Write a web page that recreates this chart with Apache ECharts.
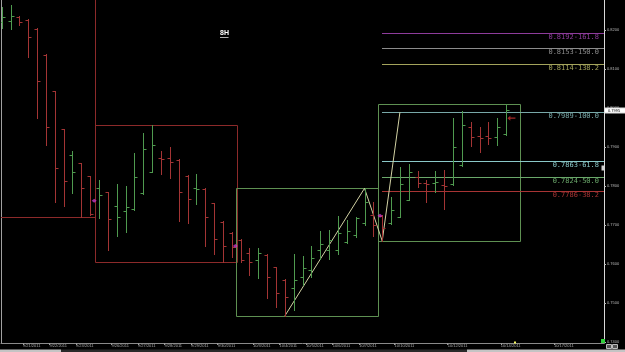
<!DOCTYPE html>
<html><head><meta charset="utf-8">
<script src="https://cdn.jsdelivr.net/npm/echarts@6/dist/echarts.min.js"></script>
<style>html,body{margin:0;padding:0;background:#000}#c{width:625px;height:352px}</style>
</head><body><div id="c"></div>
<script>
// ---- 8H OHLC bars ----
const opens = [0.8221,0.8224,0.8233,0.8226,0.8203,0.8136,0.8044,0.7946,0.7879,0.7858,
0.7826,0.7794,0.7784,0.7749,0.7736,0.7740,0.7781,0.7837,0.7871,0.7871,
0.7867,0.7826,0.7794,0.7792,0.7756,0.7708,0.7680,0.7662,0.7627,0.7610,
0.7623,0.7592,0.7559,0.7538,0.7567,0.7585,0.7636,0.7636,0.7636,0.7657,
0.7674,0.7704,0.7726,0.7723,0.7704,0.7721,0.7764,0.7824,0.7807,0.7807,
0.7803,0.7804,0.7854,0.7951,0.7927,0.7928,0.7926,0.7933];
const highs = [0.8260,0.8264,0.8236,0.8228,0.8204,0.8138,0.8044,0.7946,0.7891,0.7860,
0.7826,0.7815,0.7785,0.7805,0.7800,0.7884,0.7935,0.7956,0.7891,0.7899,
0.7868,0.7827,0.7831,0.7794,0.7757,0.7709,0.7681,0.7663,0.7640,0.7640,
0.7626,0.7593,0.7561,0.7626,0.7621,0.7646,0.7685,0.7687,0.7723,0.7713,
0.7721,0.7794,0.7759,0.7726,0.7773,0.7849,0.7856,0.7838,0.7815,0.7838,
0.7841,0.7975,0.7992,0.7963,0.7951,0.7965,0.7974,0.8010];
const lows = [0.8204,0.8202,0.8213,0.8131,0.7974,0.7905,0.7759,0.7749,0.7783,0.7720,
0.7726,0.7717,0.7636,0.7672,0.7683,0.7739,0.7780,0.7836,0.7831,0.7820,
0.7711,0.7704,0.7754,0.7646,0.7626,0.7604,0.7617,0.7606,0.7572,0.7563,
0.7512,0.7491,0.7467,0.7482,0.7546,0.7566,0.7612,0.7612,0.7626,0.7655,
0.7670,0.7700,0.7672,0.7659,0.7703,0.7720,0.7763,0.7798,0.7758,0.7784,
0.7740,0.7803,0.7852,0.7903,0.7887,0.7908,0.7905,0.7932];
const closes = [0.8234,0.8236,0.8221,0.8182,0.8069,0.7951,0.7846,0.7813,0.7836,0.7794,
0.7728,0.7777,0.7715,0.7720,0.7747,0.7824,0.7894,0.7905,0.7870,0.7862,
0.7784,0.7766,0.7792,0.7720,0.7663,0.7646,0.7644,0.7610,0.7606,0.7629,
0.7567,0.7526,0.7516,0.7559,0.7589,0.7615,0.7651,0.7662,0.7679,0.7685,
0.7717,0.7760,0.7700,0.7692,0.7738,0.7804,0.7835,0.7808,0.7804,0.7809,
0.7801,0.7901,0.7956,0.7926,0.7924,0.7923,0.7951,0.7995];

// ---- date labels (first 8H bar of each labelled day) ----
const dayLabels = ['9/21/2011','9/22/2011','9/23/2011','9/26/2011','9/27/2011','9/28/2011','9/29/2011','9/30/2011',
  '10/3/2011','10/4/2011','10/5/2011','10/6/2011','10/7/2011','10/10/2011','10/12/2011','10/14/2011','10/17/2011'];
const dayStartBar = [3,6,9,13,16,19,22,25,29,32,35,38,41,45,51,57,63];

// ---- price axis ticks ----
const priceTicks = [0.74,0.75,0.76,0.77,0.78,0.79,0.80,0.81,0.82];

// ---- weekly range boxes ----
const weekEdges = [-5.5, 10.5, 26.5, 42.5, 58.5];
const firstWeekHighBeyondView = 0.8320;

// ---- fibonacci extension ----
const fibStartBar = 43;
const fibRatios = [161.8, 150.0, 138.2, 100.0, 61.8, 50.0, 38.2];
const fibPrices = [0.8192, 0.8153, 0.8114, 0.7989, 0.7863, 0.7824, 0.7786];

// ---- zigzag drawing ----
const zigX = [32, 41, 43, 45];
const zigY = [0.7467, 0.7794, 0.7659, 0.7989];

// ---- magenta week markers, red arrow ----
const markerX = [10.45, 26.4, 42.75];
const markerY = [0.7762, 0.7646, 0.7724];
const arrowX = [57.6];
const arrowY = [0.7974];

const GREEN = '#4f9a4f', RED = '#a33434';
const BOX_RED = '#8c2a2a', BOX_GREEN = '#5e9052';
const fibColors = ['#8e3c9c','#8c8c8c','#a4a45c','#78a8a8','#8ac8c8','#6aa86a','#a83434'];

const barIdx = opens.map((_, i) => i);
const ohlcData = barIdx.map(i => [i, opens[i], highs[i], lows[i], closes[i]]);

const boxData = [];
for (let w = 0; w < weekEdges.length - 1; w++) {
  const idx = barIdx.filter(i => i > weekEdges[w] && i < weekEdges[w + 1]);
  let hi = Math.max(...idx.map(i => highs[i]));
  if (w === 0) hi = Math.max(hi, firstWeekHighBeyondView);
  const lo = Math.min(...idx.map(i => lows[i]));
  const up = closes[idx[idx.length - 1]] >= opens[idx[0]] ? 1 : 0;
  boxData.push([weekEdges[w], weekEdges[w + 1], hi, lo, up]);
}
const fibData = fibPrices.map((p, k) => [fibStartBar, p, fibRatios[k], k]);
const dayTicks = dayStartBar.map(b => b - 0.6);

const crisp = v => Math.round(v) + 0.5;
const Y_MIN = 0.739744, Y_MAX = 0.827692;

const chart = echarts.init(document.getElementById('c'), null, {renderer: 'canvas'});
chart.setOption({
  backgroundColor: '#000',
  animation: false,
  grid: {left: 1, right: 21, top: 0, bottom: 9},
  xAxis: {
    type: 'value', min: -0.079, max: 68.06,
    axisLine: {show: true, onZero: false, lineStyle: {color: '#8a8a8a', width: 1}},
    splitLine: {show: false},
    axisTick: {show: true, customValues: dayTicks, length: 2, lineStyle: {color: '#9a9a9a'}},
    axisLabel: {
      show: true, customValues: dayTicks, align: 'left', margin: 1,
      fontSize: 4, fontFamily: 'Liberation Sans', color: '#aaaaaa',
      formatter: v => { const k = dayTicks.findIndex(t => Math.abs(t - v) < 1e-6); return k >= 0 ? dayLabels[k] : ''; }
    }
  },
  yAxis: [{
    type: 'value', position: 'right', min: Y_MIN, max: Y_MAX,
    axisLine: {show: true, onZero: false, lineStyle: {color: '#d8d8d8', width: 1}},
    splitLine: {show: false},
    axisTick: {show: true, customValues: priceTicks, length: 2, lineStyle: {color: '#bbbbbb'}},
    axisLabel: {show: true, customValues: priceTicks, margin: 3, fontSize: 4, fontFamily: 'Liberation Sans',
      color: '#b8b8b8', formatter: v => v.toFixed(4)}
  }, {
    type: 'value', position: 'left', min: Y_MIN, max: Y_MAX,
    axisLine: {show: true, onZero: false, lineStyle: {color: '#a0a0a0', width: 1}},
    splitLine: {show: false}, axisTick: {show: false}, axisLabel: {show: false}
  }],
  series: [
    { // weekly boxes
      type: 'custom', clip: true, z: 1, silent: true,
      encode: {x: [0, 1], y: [2, 3]},
      data: boxData,
      renderItem: (params, api) => {
        const p1 = api.coord([api.value(0), api.value(2)]);
        const p2 = api.coord([api.value(1), api.value(3)]);
        const col = api.value(4) ? BOX_GREEN : BOX_RED;
        return {type: 'rect', shape: {x: crisp(p1[0]), y: crisp(p1[1]), width: Math.round(p2[0] - p1[0]), height: Math.round(p2[1] - p1[1])},
          style: {fill: 'none', stroke: col, lineWidth: 1}};
      }
    },
    { // fib levels
      type: 'custom', clip: true, z: 2, silent: true,
      encode: {x: 0, y: 1},
      data: fibData,
      renderItem: (params, api) => {
        const p = api.coord([api.value(0), api.value(1)]);
        const xr = params.coordSys.x + params.coordSys.width;
        const y = crisp(p[1]);
        const col = fibColors[api.value(3)];
        return {type: 'group', children: [
          {type: 'line', shape: {x1: Math.round(p[0]), y1: y, x2: xr, y2: y}, style: {stroke: col, lineWidth: 1}},
          {type: 'text', style: {text: api.value(1).toFixed(4) + '-' + api.value(2).toFixed(1), x: xr - 5, y: y + 0.5,
            align: 'right', verticalAlign: 'top', fill: col, font: '7px "DejaVu Sans Mono"'}}
        ]};
      }
    },
    { // zigzag
      type: 'line', z: 3, silent: true, showSymbol: false, symbol: 'none',
      data: zigX.map((x, k) => [x, zigY[k]]),
      lineStyle: {color: '#d2d2a4', width: 1}
    },
    { // OHLC bars
      type: 'custom', clip: true, z: 4, silent: true,
      encode: {x: 0, y: [1, 2, 3, 4]},
      data: ohlcData,
      renderItem: (params, api) => {
        const i = params.dataIndex;
        const xi = api.value(0);
        const pO = api.coord([xi, api.value(1)]);
        const pH = api.coord([xi, api.value(2)]);
        const pL = api.coord([xi, api.value(3)]);
        const pC = api.coord([xi, api.value(4)]);
        const prev = i > 0 ? closes[i - 1] : opens[i];
        const col = closes[i] >= prev ? GREEN : RED;
        const x = crisp(pH[0]);
        const yo = crisp(pO[1]), yc = crisp(pC[1]);
        return {type: 'group', children: [
          {type: 'line', shape: {x1: x, y1: Math.round(pH[1]), x2: x, y2: Math.round(pL[1]) + 1}, style: {stroke: col, lineWidth: 1}},
          {type: 'line', shape: {x1: x - 3, y1: yo, x2: x, y2: yo}, style: {stroke: col, lineWidth: 1}},
          {type: 'line', shape: {x1: x, y1: yc, x2: x + 3, y2: yc}, style: {stroke: col, lineWidth: 1}}
        ]};
      }
    },
    { // magenta markers
      type: 'scatter', z: 5, silent: true, symbol: 'diamond', symbolSize: [5, 4],
      itemStyle: {color: '#c838c8'},
      data: markerX.map((x, k) => [x, markerY[k]])
    },
    { // red arrow
      type: 'scatter', z: 5, silent: true,
      symbol: 'path://M0,4L4,0L4,3L11,3L11,5L4,5L4,8Z', symbolSize: [8, 5],
      itemStyle: {color: '#c83232'},
      data: arrowX.map((x, k) => [x, arrowY[k]])
    },
    { // current price box on the axis
      type: 'custom', clip: false, z: 10, silent: true,
      encode: {x: 0, y: 1},
      data: [[barIdx.length - 1, closes[closes.length - 1]]],
      renderItem: (params, api) => {
        const p = api.coord([api.value(0), api.value(1)]);
        const xr = params.coordSys.x + params.coordSys.width;
        return {type: 'group', children: [
          {type: 'rect', shape: {x: xr + 0.5, y: Math.round(p[1]) - 2, width: 21, height: 5}, style: {fill: '#ffffff', stroke: '#dddddd'}},
          {type: 'text', style: {text: api.value(1).toFixed(4), x: xr + 4, y: Math.round(p[1]) + 0.5, verticalAlign: 'middle', align: 'left',
            fill: '#000', font: '4px "Liberation Sans"'}}
        ]};
      }
    }
  ],
  graphic: [
    {type: 'text', left: 220, top: 30, z: 20, style: {text: '8H', fill: '#ffffff', font: 'bold 7px "Liberation Sans"'}},
    {type: 'line', z: 20, shape: {x1: 220, y1: 37.5, x2: 228.5, y2: 37.5}, style: {stroke: '#b0b0b0', lineWidth: 1}},
    {type: 'rect', z: 20, shape: {x: 0, y: 349.5, width: 61, height: 2.5}, style: {fill: '#c4c4c4'}},
    {type: 'rect', z: 20, shape: {x: 61, y: 349.5, width: 406, height: 2.5}, style: {fill: '#2a2a2a'}},
    {type: 'rect', z: 20, shape: {x: 467, y: 349.5, width: 158, height: 2.5}, style: {fill: '#c4c4c4'}},
    {type: 'rect', z: 20, shape: {x: 601, y: 339, width: 4, height: 4}, style: {fill: '#2fd23a'}},
    {type: 'rect', z: 20, shape: {x: 514, y: 341.5, width: 2, height: 2}, style: {fill: '#f4f45a'}},
    {type: 'rect', z: 20, shape: {x: 606.5, y: 344.5, width: 5, height: 4}, style: {fill: '#555', stroke: '#bbb', lineWidth: 1}},
    {type: 'rect', z: 20, shape: {x: 612.5, y: 344.5, width: 5, height: 4}, style: {fill: '#555', stroke: '#bbb', lineWidth: 1}},
    {type: 'rect', z: 20, shape: {x: 601.5, y: 165.5, width: 3, height: 5}, style: {fill: '#cfcfcf'}}
  ]
});
</script>
</body></html>
